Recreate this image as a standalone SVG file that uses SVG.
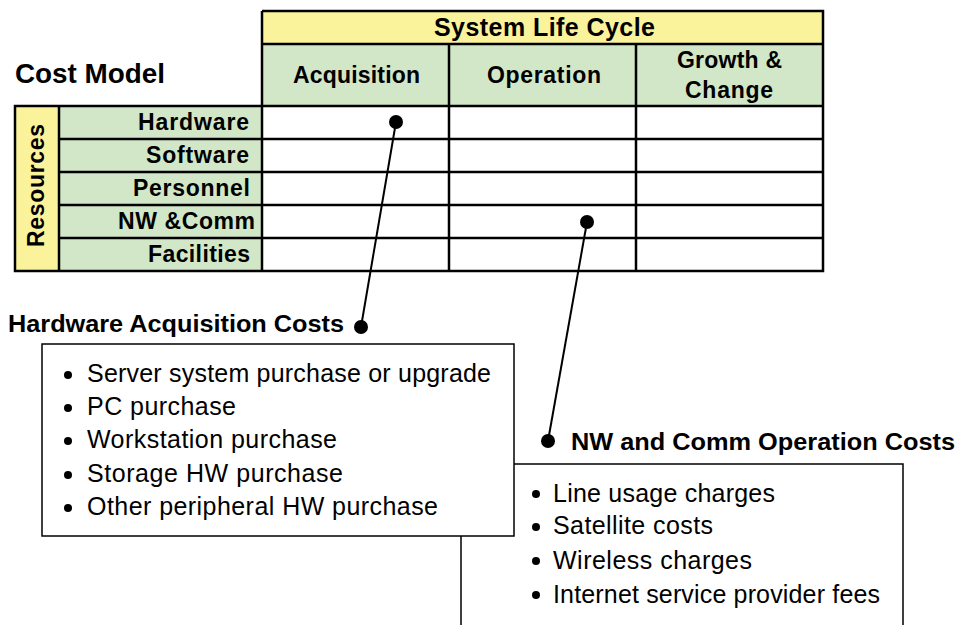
<svg xmlns="http://www.w3.org/2000/svg" width="973" height="625" viewBox="0 0 973 625">
<style>
.hd{font-family:"Liberation Sans",Arial,sans-serif;font-weight:bold;fill:#000}
.tx{font-family:"Liberation Sans",Arial,sans-serif;fill:#000}
.yel{fill:#fbf39c}
.grn{fill:#d2e7c7}
.ln{stroke:#000;stroke-width:2.5;fill:none}
.box{fill:#fff;stroke:#000;stroke-width:1.5}
.conn{stroke:#000;stroke-width:2;fill:none}
</style>
<rect width="973" height="625" fill="#fff"/>
<g id="title"><text class="hd" x="15" y="83" font-size="27" textLength="150" lengthAdjust="spacingAndGlyphs">Cost Model</text></g>
<g id="table">
<rect class="yel" x="262" y="11" width="561" height="33"/>
<rect class="grn" x="262" y="44" width="561" height="62"/>
<rect class="yel" x="15" y="106" width="44" height="165"/>
<rect class="grn" x="59" y="106" width="203" height="165"/>
<rect x="262" y="106" width="561" height="165" fill="#fff"/>
<path class="ln" d="M262,11H823V271H15V106H823M262,11V271M262,44H823M449,44V271M636,44V271M59,106V271M59,139H823M59,172H823M59,205H823M59,238H823"/>
<g font-size="23" lengthAdjust="spacingAndGlyphs">
<text class="hd" x="434" y="36" font-size="25" textLength="221">System Life Cycle</text>
<text class="hd" x="293" y="83" textLength="127">Acquisition</text>
<text class="hd" x="487" y="83" textLength="114">Operation</text>
<text class="hd" x="677" y="68" textLength="105">Growth &amp;</text>
<text class="hd" x="685" y="98" textLength="88">Change</text>
<text class="hd" x="138" y="130" textLength="111">Hardware</text>
<text class="hd" x="146" y="163" textLength="103">Software</text>
<text class="hd" x="133" y="196" textLength="117">Personnel</text>
<text class="hd" x="118" y="229" textLength="137">NW &amp;Comm</text>
<text class="hd" x="148" y="262" textLength="102">Facilities</text>
<text class="hd" transform="translate(44,247) rotate(-90)" textLength="123">Resources</text>
</g>
</g>
<g id="nwcomm-box">
<rect class="box" x="461" y="464" width="442" height="200"/>
<text class="hd" x="571" y="450" font-size="23" textLength="384" lengthAdjust="spacingAndGlyphs">NW and Comm Operation Costs</text>
<g class="tx" font-size="25" lengthAdjust="spacingAndGlyphs">
<circle cx="536" cy="494" r="4"/><text x="553" y="502" textLength="222">Line usage charges</text>
<circle cx="536" cy="527" r="4"/><text x="553" y="534" textLength="160">Satellite costs</text>
<circle cx="536" cy="561" r="4"/><text x="553" y="569" textLength="199">Wireless charges</text>
<circle cx="536" cy="595" r="4"/><text x="553" y="603" textLength="327">Internet service provider fees</text>
</g>
</g>
<g id="hw-box">
<rect class="box" x="42" y="344" width="472" height="192"/>
<text class="hd" x="8" y="332" font-size="23" textLength="336" lengthAdjust="spacingAndGlyphs">Hardware Acquisition Costs</text>
<g class="tx" font-size="25" lengthAdjust="spacingAndGlyphs">
<circle cx="68" cy="375" r="4"/><text x="87" y="382" textLength="404">Server system purchase or upgrade</text>
<circle cx="68" cy="408" r="4"/><text x="87" y="415" textLength="149">PC purchase</text>
<circle cx="68" cy="441" r="4"/><text x="87" y="448" textLength="250">Workstation purchase</text>
<circle cx="68" cy="475" r="4"/><text x="87" y="482" textLength="256">Storage HW purchase</text>
<circle cx="68" cy="508" r="4"/><text x="87" y="515" textLength="351">Other peripheral HW purchase</text>
</g>
</g>
<g id="connectors">
<line class="conn" x1="396" y1="122" x2="361" y2="327"/>
<circle cx="396" cy="122" r="7"/>
<circle cx="361" cy="327" r="7"/>
<line class="conn" x1="587" y1="222" x2="548" y2="441"/>
<circle cx="587" cy="222" r="7"/>
<circle cx="548" cy="441" r="7"/>
</g>
</svg>
